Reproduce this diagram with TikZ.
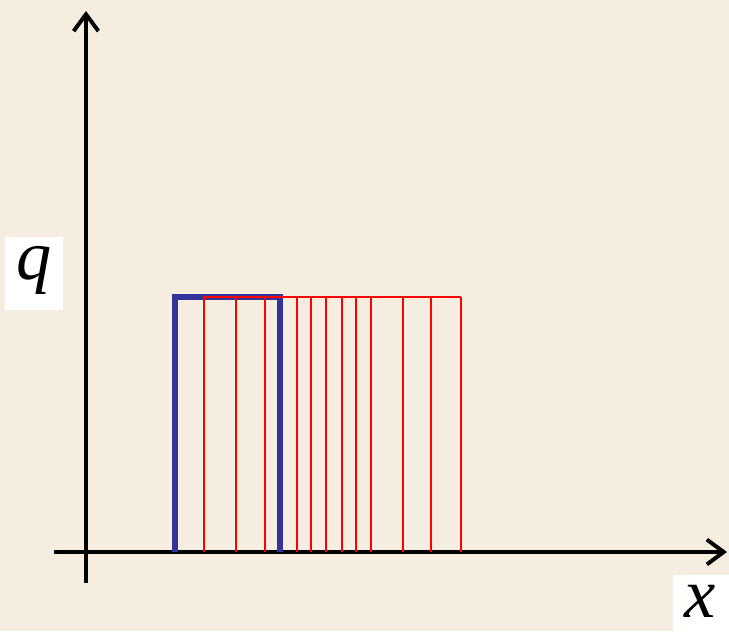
\documentclass[tikz,border=0pt]{standalone}
\usepackage{fontspec}
\setmainfont{Liberation Serif}
\usetikzlibrary{arrows.meta}
\definecolor{paper}{HTML}{F4EDE0}
\definecolor{bandblue}{HTML}{333399}
\definecolor{stripred}{HTML}{FF0000}

\begin{document}
\begin{tikzpicture}[x=0.025cm,y=-0.025cm,
  axis/.style={line width=3pt,-{Straight Barb[length=0.42cm,width=0.62cm,line width=2.8pt]}},
  labeltext/.style={inner sep=0pt,font=\fontsize{50}{50}\selectfont\itshape},
  bluepulse/.style={draw=bandblue,line width=3.6pt},
  redpulse/.style={draw=stripred,line width=1.6pt}]
\useasboundingbox (0,0) rectangle (729,631);
\fill[paper] (0,0) rectangle (729,631);

% axes
\coordinate (yfoot) at (86,583);
\coordinate (ytop) at (86,11);
\coordinate (xfoot) at (54,552);
\coordinate (xtip) at (727,552);
\draw[axis] (yfoot) -- (ytop);
\draw[axis] (xfoot) -- (xtip);

% labels on white patches
\fill[white] (5,237) rectangle (63,310);
\fill[white] (673,575) rectangle (729,631);
\node[labeltext] (qlabel) at (34,270) {q};
\node[labeltext] (xlabel) at (700,601) {x};

% initial pulse
\draw[bluepulse] (175,552) -- (175,297) -- (280,297) -- (280,552);

% spread pulses
\draw[redpulse] (204,297) -- (461,297);
\foreach \rx in {204,236,265,297,311,326,342,356,371,403,431,461}{
  \draw[redpulse] (\rx,552) -- (\rx,297);
}
\end{tikzpicture}
\end{document}
